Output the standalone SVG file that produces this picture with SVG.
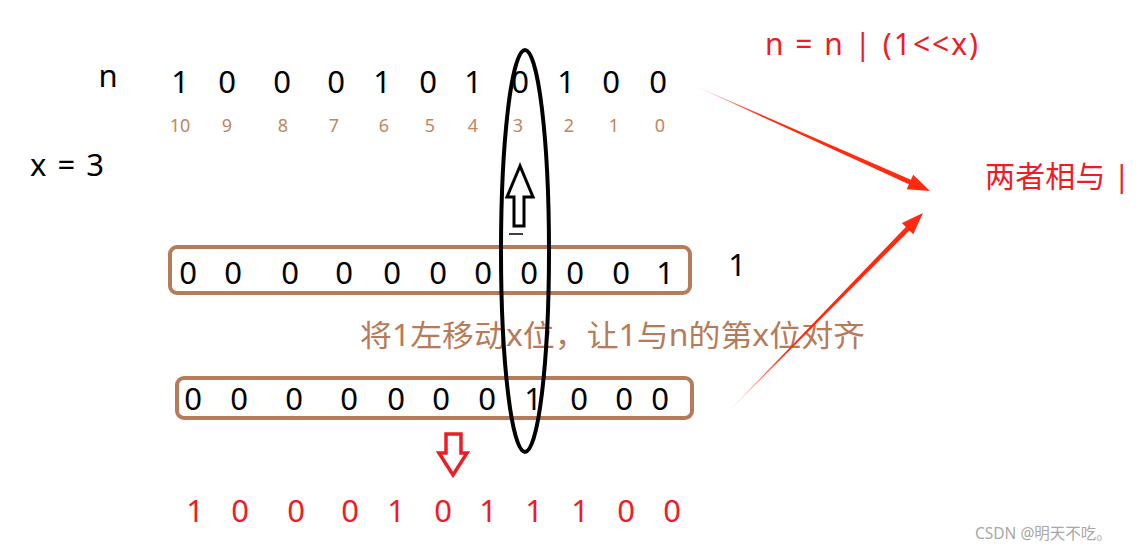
<svg xmlns="http://www.w3.org/2000/svg" width="1146" height="553" viewBox="0 0 1146 553">
<defs>
<style>
text{font-family:"Noto Sans","Noto Sans CJK SC",sans-serif;}
.big{font-size:31px;fill:#000;text-anchor:middle;}
.idx{font-size:18px;fill:#c08660;text-anchor:middle;}
.red{font-size:31px;fill:#ee1c25;text-anchor:middle;}
.box{fill:none;stroke:#b87b59;stroke-width:4;}
.rtxt{font-size:30px;fill:#ee1c25;}
</style>
<linearGradient id="g1" gradientUnits="userSpaceOnUse" x1="693" y1="85" x2="930" y2="191">
<stop offset="0" stop-color="#ff2a0f" stop-opacity="0.1"/><stop offset="0.3" stop-color="#ff2a0f"/><stop offset="1" stop-color="#ff2a0f"/>
</linearGradient>
<linearGradient id="g2" gradientUnits="userSpaceOnUse" x1="725" y1="415" x2="923" y2="213">
<stop offset="0" stop-color="#ff2a0f" stop-opacity="0.1"/><stop offset="0.3" stop-color="#ff2a0f"/><stop offset="1" stop-color="#ff2a0f"/>
</linearGradient>
</defs>
<rect width="1146" height="553" fill="#fff"/>

<g id="n-label"><text x="108" y="87" class="big">n</text></g>
<g id="n-bits">
<text y="93" class="big"><tspan x="180">1</tspan><tspan x="227">0</tspan><tspan x="282">0</tspan><tspan x="336">0</tspan><tspan x="382">1</tspan><tspan x="428">0</tspan><tspan x="473">1</tspan><tspan x="520">0</tspan><tspan x="566">1</tspan><tspan x="611">0</tspan><tspan x="658">0</tspan></text>
</g>
<g id="indices">
<text y="132" class="idx"><tspan x="180">10</tspan><tspan x="227">9</tspan><tspan x="283">8</tspan><tspan x="334">7</tspan><tspan x="384">6</tspan><tspan x="430">5</tspan><tspan x="473">4</tspan><tspan x="518">3</tspan><tspan x="569">2</tspan><tspan x="614">1</tspan><tspan x="660">0</tspan></text>
</g>
<g id="x-label"><text x="30" y="176" style="font-size:31px;fill:#000" textLength="74" lengthAdjust="spacing">x = 3</text></g>

<g id="formula"><text x="765" y="55" class="rtxt" textLength="213" lengthAdjust="spacing">n = n | (1&lt;&lt;x)</text></g>
<g id="result-label"><text x="985" y="187" class="rtxt" textLength="145" lengthAdjust="spacing">两者相与 |</text></g>

<g id="shift-text"><text x="360" y="346" style="font-size:30px;fill:#b87b59" textLength="505" lengthAdjust="spacingAndGlyphs">将1左移动x位，让1与n的第x位对齐</text></g>

<g id="one-box">
<rect x="170" y="247" width="520" height="46" rx="7" class="box"/>
<text y="284" class="big"><tspan x="188">0</tspan><tspan x="233">0</tspan><tspan x="290">0</tspan><tspan x="344">0</tspan><tspan x="392">0</tspan><tspan x="438">0</tspan><tspan x="483">0</tspan><tspan x="529">0</tspan><tspan x="575">0</tspan><tspan x="621">0</tspan><tspan x="665">1</tspan></text>
</g>
<g id="one-label"><text x="737" y="276" class="big">1</text></g>

<g id="shifted-box">
<rect x="177" y="378" width="515" height="40" rx="7" class="box"/>
<text y="410" class="big"><tspan x="193">0</tspan><tspan x="239">0</tspan><tspan x="294">0</tspan><tspan x="349">0</tspan><tspan x="396">0</tspan><tspan x="441">0</tspan><tspan x="487">0</tspan><tspan x="533">1</tspan><tspan x="579">0</tspan><tspan x="624">0</tspan><tspan x="660">0</tspan></text>
</g>

<g id="result-bits">
<text y="522" class="red"><tspan x="195">1</tspan><tspan x="240">0</tspan><tspan x="296">0</tspan><tspan x="350">0</tspan><tspan x="396">1</tspan><tspan x="443">0</tspan><tspan x="488">1</tspan><tspan x="534">1</tspan><tspan x="580">1</tspan><tspan x="626">0</tspan><tspan x="672">0</tspan></text>
</g>

<g id="bit-ellipse"><ellipse cx="525" cy="251" rx="24" ry="201" fill="none" stroke="#000" stroke-width="4"/></g>

<g id="connectors">
<polygon points="520,166 507,197 514,197 514,226 524,226 524,197 533,197" fill="#fff" stroke="#000" stroke-width="3" stroke-linejoin="miter"/>
<line x1="509" y1="234" x2="523" y2="234" stroke="#000" stroke-width="1.5"/>
<polygon points="446,434 461,434 461,453 467,453 453,475 439,453 446,453" fill="#fff" stroke="#ee1c25" stroke-width="3.5"/>
<polygon points="693,85 910.9,179.7 913.2,174.7 930,191 906.6,189.3 908.9,184.3" fill="url(#g1)"/>
<polygon points="725,415 905.8,226.9 901.9,223.1 923,213 913.3,234.3 909.4,230.5" fill="url(#g2)"/>
</g>

<g id="watermark"><text x="975" y="539" style="font-size:15.5px;fill:#a8a8a8">CSDN @明天不吃。</text></g>
</svg>
